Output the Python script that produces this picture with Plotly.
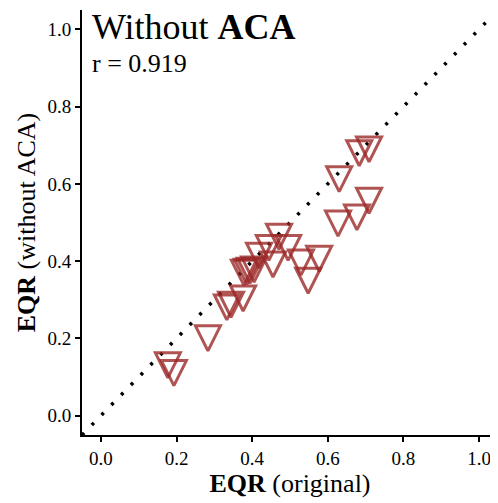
import plotly.graph_objects as go

eqr_original = [0.709, 0.683, 0.630, 0.709, 0.677, 0.627, 0.471, 0.495, 0.444, 0.418,
                0.455, 0.577, 0.529, 0.548, 0.378, 0.386, 0.394, 0.405, 0.376, 0.344,
                0.333, 0.283, 0.177, 0.193]
eqr_without_aca = [0.700, 0.690, 0.623, 0.567, 0.524, 0.508, 0.474, 0.445, 0.445, 0.425,
                   0.402, 0.417, 0.407, 0.360, 0.381, 0.383, 0.386, 0.389, 0.314, 0.298,
                   0.291, 0.211, 0.141, 0.121]
tick_vals = [0.0, 0.2, 0.4, 0.6, 0.8, 1.0]
tick_text = ["0.0", "0.2", "0.4", "0.6", "0.8", "1.0"]
axis_range = [-0.05, 1.05]

FONT = "Liberation Serif"
MARKER_SIZE = 25

fig = go.Figure()
fig.add_trace(go.Scatter(
    x=axis_range, y=axis_range, mode="lines",
    line=dict(color="black", width=3.5, dash="3px,11px"),
    hoverinfo="skip", showlegend=False,
))
fig.add_trace(go.Scatter(
    x=eqr_original, y=eqr_without_aca, mode="markers",
    marker=dict(symbol="arrow-down-open", size=MARKER_SIZE, standoff=2 * MARKER_SIZE / 3,
                color="rgba(155,40,40,0.8)",
                line=dict(width=3, color="rgba(155,40,40,0.8)")),
    showlegend=False,
))

axis_common = dict(
    range=axis_range, tickvals=tick_vals, ticktext=tick_text, automargin=False,
    showgrid=False, zeroline=False, showline=True, linecolor="black", linewidth=2,
    ticks="outside", ticklen=5, tickwidth=1.5, tickcolor="black",
    tickfont=dict(family=FONT, size=19, color="black"),
)
fig.update_xaxes(**axis_common,
                 title=dict(text="<b>EQR</b> (original)", font=dict(family=FONT, size=26, color="black"), standoff=0))
fig.update_yaxes(**axis_common,
                 title=dict(text="<b>EQR</b> (without ACA)", font=dict(family=FONT, size=26, color="black"), standoff=4))

fig.add_annotation(x=0, y=1.0, xref="paper", yref="paper", xanchor="left", yanchor="top",
                   xshift=8, yshift=5,
                   text="Without <b>ACA</b>", showarrow=False,
                   font=dict(family=FONT, size=36, color="black"))
fig.add_annotation(x=0, y=1.0, xref="paper", yref="paper", xanchor="left", yanchor="top",
                   xshift=8, yshift=-37,
                   text="r = 0.919", showarrow=False,
                   font=dict(family=FONT, size=26, color="black"))

fig.update_layout(
    width=490, height=495,
    margin=dict(l=74, r=0, t=2, b=68),
    plot_bgcolor="white", paper_bgcolor="white",
    font=dict(family=FONT, color="black"),
)
fig.write_html("out.html")
